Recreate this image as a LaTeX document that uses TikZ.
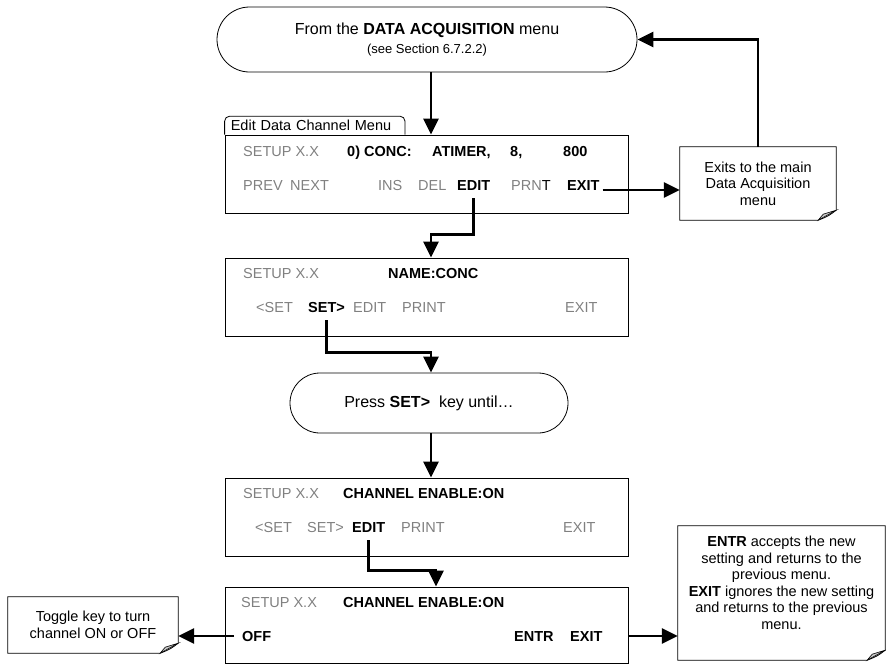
\documentclass[tikz,border=0pt]{standalone}
\usepackage{fontspec}
\setmainfont{Liberation Sans}
\usepackage{xcolor}
\usepackage{tikz}
\usetikzlibrary{arrows.meta,positioning,calc,shapes.misc}
\definecolor{keygray}{RGB}{128,128,128}
\definecolor{foldgray}{RGB}{200,200,200}
\newcommand{\keyfont}{\fontsize{14.5}{16.5}\selectfont}
\newcommand{\termfont}{\fontsize{16}{19}\selectfont}
% note outline with a curled lower right corner
\newcommand{\foldnote}[2]{%
  \coordinate (#1-se) at ([yshift=-#2]#1.south east);
  \coordinate (#1-sw) at ([yshift=-#2]#1.south west);
  \draw[line width=0.8pt] (#1.north west) -- (#1.north east) -- ([yshift=10pt]#1-se)
    .. controls ([xshift=-8pt,yshift=4pt]#1-se) .. ([xshift=-18pt]#1-se) -- (#1-sw) -- cycle;
  \draw[line width=0.6pt,fill=foldgray] ([yshift=10pt]#1-se) -- ([xshift=-18pt]#1-se) -- ([xshift=-13pt,yshift=6pt]#1-se) -- cycle;
}

\begin{document}
\begin{tikzpicture}[x=1pt,y=-1pt]
\tikzstyle{menubox}=[draw,line width=0.8pt,minimum width=403pt,minimum height=78pt,inner sep=0pt]
\tikzstyle{termbox}=[draw,rounded rectangle,line width=0.8pt,align=center,font=\termfont,inner sep=0pt]
\tikzstyle{tabbox}=[font=\keyfont,minimum width=180pt,minimum height=18pt,text width=168pt,align=left,inner xsep=6pt,inner ysep=2pt]
\tikzstyle{keyoff}=[anchor=base west,inner xsep=0pt,inner ysep=8pt,font=\keyfont,text=keygray]
\tikzstyle{keyon}=[keyoff,text=black,font=\keyfont\bfseries]
\tikzstyle{notebox}=[align=center,font=\keyfont,inner sep=0pt]
\tikzstyle{flow}=[line width=2.6pt,-{Triangle[length=16pt,width=15pt]}]
\useasboundingbox (0,0) rectangle (886,664);
\coordinate (spine) at (431,0);

\node[termbox,minimum width=420pt,minimum height=65pt] (dataacq) at (427,39.5) {From the \textbf{DATA ACQUISITION} menu\\{\fontsize{13}{19}\selectfont (see Section 6.7.2.2)}};

% edit data channel menu
\node[menubox] (chanmenu) at (426.5,174) {};
\node[tabbox,anchor=south west] (chantab) at (chanmenu.north west) {Edit Data Channel Menu};
\draw[line width=0.8pt,rounded corners=5pt] (chantab.south west) -- (chantab.north west) -- (chantab.north east) -- (chantab.south east);
\node[keyoff] (setup1) at (243,156) {SETUP X.X};
\node[keyon] (conc1) at (347,156) {0) CONC:};
\node[keyon] (atimer1) at (432,156) {ATIMER,};
\node[keyon] (eight1) at (510,156) {8,};
\node[keyon] (rate1) at (563,156) {800};
\node[keyoff] (prev1) at (243,190) {PREV};
\node[keyoff] (next1) at (290,190) {NEXT};
\node[keyoff] (ins1) at (378,190) {INS};
\node[keyoff] (del1) at (418,190) {DEL};
\node[keyon] (edit1) at (457,190) {EDIT};
\node[keyoff] (prnt1) at (511,190) {PRN\textcolor{black}{T}};
\node[keyon] (exit1) at (567,190) {EXIT};

% name
\node[menubox] (namemenu) at (426.5,297) {};
\node[keyoff] (setup2) at (243,278) {SETUP X.X};
\node[keyon] (name2) at (388,278) {NAME:CONC};
\node[keyoff] (back2) at (256,312) {<SET};
\node[keyon] (set2) at (308,312) {SET>};
\node[keyoff] (edit2) at (353,312) {EDIT};
\node[keyoff] (print2) at (402,312) {PRINT};
\node[keyoff] (exit2) at (565,312) {EXIT};

\node[termbox,minimum width=278pt,minimum height=60pt] (pressset) at (429,403) {Press \textbf{SET>}~ key until…};

% channel enable
\node[menubox] (enablemenu) at (426.5,517) {};
\node[keyoff] (setup3) at (243,498) {SETUP X.X};
\node[keyon] (chan3) at (343,498) {CHANNEL ENABLE:ON};
\node[keyoff] (back3) at (255,532) {<SET};
\node[keyoff] (set3) at (307,532) {SET>};
\node[keyon] (edit3) at (352,532) {EDIT};
\node[keyoff] (print3) at (401,532) {PRINT};
\node[keyoff] (exit3) at (563,532) {EXIT};

\node[menubox,minimum height=76pt] (togglemenu) at (426.5,625) {};
\node[keyoff] (setup4) at (241,607) {SETUP X.X};
\node[keyon] (chan4) at (343,607) {CHANNEL ENABLE:ON};
\node[keyon] (off4) at (242,641) {OFF};
\node[keyon] (entr4) at (514,641) {ENTR};
\node[keyon] (exit4) at (570,641) {EXIT};

% notes
\node[notebox,minimum width=156pt,minimum height=73pt] (exitnote) at (758,183.5) {Exits to the main\\Data Acquisition\\menu};
\node[notebox,minimum width=170pt,minimum height=56pt] (togglenote) at (93,625) {Toggle key to turn\\channel ON or OFF};
\node[notebox,minimum width=207pt,minimum height=114pt] (entrnote) at (781.5,583) {\textbf{ENTR} accepts the new\\setting and returns to the\\previous menu.\\\textbf{EXIT} ignores the new setting\\and returns to the previous\\menu.};
\foldnote{exitnote}{0pt}
\foldnote{togglenote}{0pt}
\foldnote{entrnote}{20pt}

\draw[flow] (dataacq.south -| spine) -- (spine |- chanmenu.north);
\draw[flow] ([xshift=3pt]exit1.base east) -- (exit1.base east -| exitnote.west);
\draw[flow] (exitnote.north) |- (dataacq.east);
\draw[flow] (edit1.south) -- ++(0,36) -| (spine |- namemenu.north);
\draw[flow] (set2.south) -- ++(0,32) -| (spine |- pressset.north);
\draw[flow] (pressset.south -| spine) -- (spine |- enablemenu.north);
\draw[flow] (edit3.south) -- ++(0,30) -| ([xshift=5pt]spine |- togglemenu.north);
\draw[flow] ([xshift=-8pt]off4.west) -- (off4.west -| togglenote.east);
\draw[flow] (exit4.west -| togglemenu.east) -- (exit4.west -| entrnote.west);
\end{tikzpicture}
\end{document}
